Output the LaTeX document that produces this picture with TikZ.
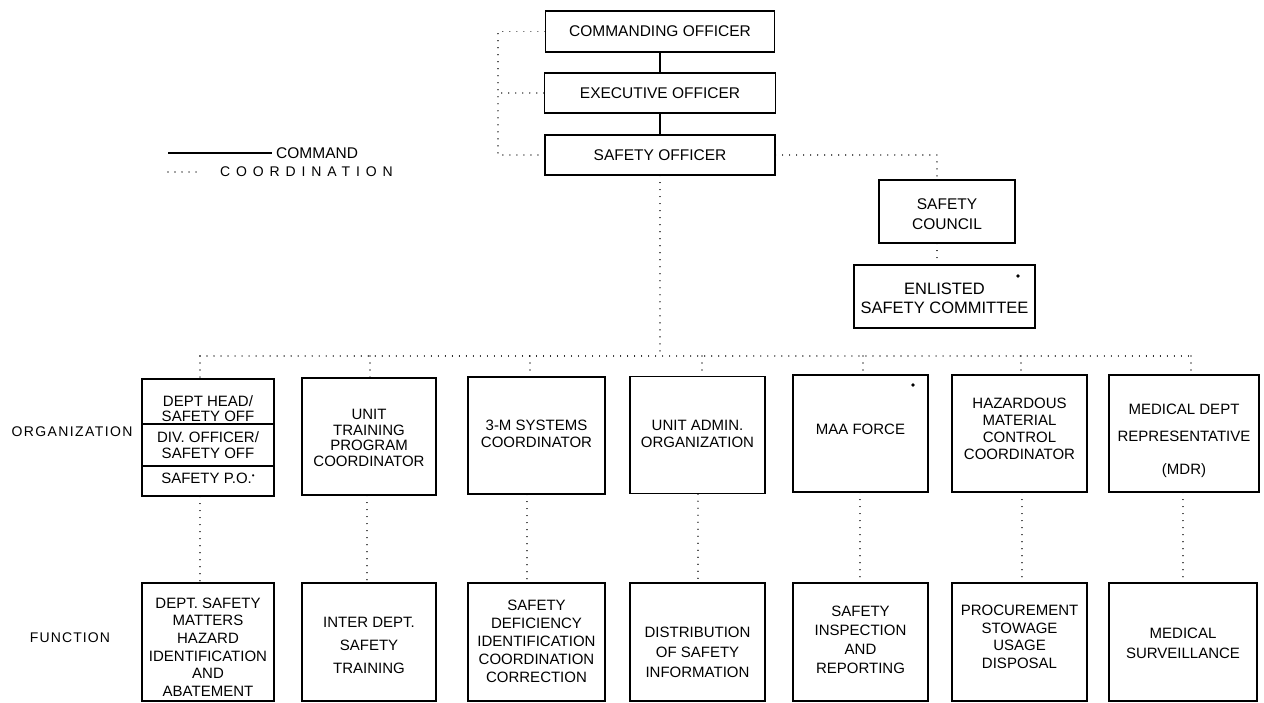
\documentclass[tikz,border=0pt]{standalone}
\usepackage{fontspec}
\setmainfont{Liberation Sans}
\begin{document}
\begin{tikzpicture}[x=1pt,y=-1pt,
  box/.style={draw, line width=1.3pt, inner sep=0pt, minimum width=#1},
  txt/.style={inner sep=0pt, align=center, font=\fontsize{15}{17}\selectfont},
  cmd/.style={line width=2pt},
  coord/.style={line width=1.1pt, line cap=round, dash pattern=on 0.01pt off 7pt},
  side/.style={inner sep=0pt, font=\fontsize{14}{16}\selectfont}]
\useasboundingbox (0,0) rectangle (1264,703);

% ---- top chain
\node[box=229pt, minimum height=41pt] (co) at (660,31.5) {};
\node[box=231pt, minimum height=40pt] (eo) at (660,93) {};
\node[box=230pt, minimum height=40pt] (so) at (660,155) {};
\node[txt, font=\fontsize{15.5}{17}\selectfont] (tco) at (co) {COMMANDING OFFICER};
\node[txt, font=\fontsize{15.5}{17}\selectfont] (teo) at (eo) {EXECUTIVE OFFICER};
\node[txt, font=\fontsize{15.5}{17}\selectfont] (tso) at (so) {SAFETY OFFICER};

% ---- council
\node[box=136pt, minimum height=63pt] (sc) at (947,211.5) {};
\node[box=181pt, minimum height=63pt] (esc) at (944.5,296.5) {};
\node[txt, font=\fontsize{15.5}{20}\selectfont] (tsc) at (947,214) {SAFETY\\COUNCIL};
\node[txt, font=\fontsize{16.5}{19}\selectfont] (tesc) at (944.5,298) {ENLISTED\\SAFETY COMMITTEE};
\fill (1018,276) circle (1.8pt);

% ---- legend
\coordinate (lc1) at (168,153); \coordinate (lc2) at (272,153);
\coordinate (ld1) at (168,172); \coordinate (ld2) at (202,172);
\draw[cmd] (lc1) -- (lc2);
\draw[coord] (ld1) -- (ld2);
\node[side, font=\fontsize{15.5}{17}\selectfont, anchor=west] (lcmd) at (276,153) {COMMAND};
\node[side, anchor=west] (lcoo) at (220,172) {\addfontfeature{LetterSpace=42}COORDINATION};

% ---- side labels
\node[side] (lorg) at (72,432) {\addfontfeature{LetterSpace=10}ORGANIZATION};
\node[side] (lfun) at (70,638) {\addfontfeature{LetterSpace=8}FUNCTION};

% ---- organization boxes
\node[box=132pt, minimum height=45pt] (o1a) at (208,401.5) {};
\node[box=132pt, minimum height=42pt] (o1b) at (208,445) {};
\node[box=132pt, minimum height=30pt] (o1c) at (208,481) {};
\node[box=134pt, minimum height=117pt] (o2) at (369,436.5) {};
\node[box=137pt, minimum height=117pt] (o3) at (536.5,435.5) {};
\node[box=135pt, minimum height=117pt] (o4) at (697.5,435) {};
\node[box=135pt, minimum height=117pt] (o5) at (860.5,433.5) {};
\node[box=135pt, minimum height=117pt] (o6) at (1019.5,433.5) {};
\node[box=150pt, minimum height=117pt] (o7) at (1184,433.5) {};

\node[txt, font=\fontsize{15}{15.5}\selectfont] (to1a) at (208,408.5) {DEPT HEAD/\\SAFETY OFF};
\node[txt, font=\fontsize{15}{16}\selectfont] (to1b) at (208,445) {DIV. OFFICER/\\SAFETY OFF};
\node[txt] (to1c) at (208,478) {SAFETY P.O.\raisebox{5pt}{\fontsize{8}{8}\selectfont\textbullet}};
\node[txt, font=\fontsize{15}{15.5}\selectfont] (to2) at (369,438) {UNIT\\TRAINING\\PROGRAM\\COORDINATOR};
\node[txt] (to3) at (536.5,434) {3-M SYSTEMS\\COORDINATOR};
\node[txt] (to4) at (697.5,434) {UNIT ADMIN.\\ORGANIZATION};
\node[txt] (to5) at (860.5,429) {MAA FORCE};
\fill (913,385) circle (1.8pt);
\node[txt] (to6) at (1019.5,429) {HAZARDOUS\\MATERIAL\\CONTROL\\COORDINATOR};
\node[txt, font=\fontsize{15}{27}\selectfont] (to7) at (1184,441) {MEDICAL DEPT\\REPRESENTATIVE\\[6pt](MDR)};

% ---- function boxes
\node[box=132pt, minimum height=118pt] (f1) at (208,642) {};
\node[box=134pt, minimum height=118pt] (f2) at (369,642) {};
\node[box=137pt, minimum height=118pt] (f3) at (536.5,642) {};
\node[box=135pt, minimum height=118pt] (f4) at (697.5,642) {};
\node[box=135pt, minimum height=118pt] (f5) at (860.5,642) {};
\node[box=135pt, minimum height=118pt] (f6) at (1019.5,642) {};
\node[box=148pt, minimum height=118pt] (f7) at (1183,642) {};

\node[txt, font=\fontsize{15}{17.6}\selectfont] (tf1) at (208,647) {DEPT. SAFETY\\MATTERS\\HAZARD\\IDENTIFICATION\\AND\\ABATEMENT};
\node[txt, font=\fontsize{15}{23}\selectfont] (tf2) at (369,645) {INTER DEPT.\\SAFETY\\TRAINING};
\node[txt, font=\fontsize{15}{18}\selectfont] (tf3) at (536.5,641) {SAFETY\\DEFICIENCY\\IDENTIFICATION\\COORDINATION\\CORRECTION};
\node[txt, font=\fontsize{15}{20}\selectfont] (tf4) at (697.5,652) {DISTRIBUTION\\OF SAFETY\\INFORMATION};
\node[txt, font=\fontsize{15}{19}\selectfont] (tf5) at (860.5,640) {SAFETY\\INSPECTION\\AND\\REPORTING};
\node[txt, font=\fontsize{15}{17.5}\selectfont] (tf6) at (1019.5,637) {PROCUREMENT\\STOWAGE\\USAGE\\DISPOSAL};
\node[txt, font=\fontsize{15}{20}\selectfont] (tf7) at (1183,643) {MEDICAL\\SURVEILLANCE};

% ---- command connectors
\draw[cmd] (co.south) -- (eo.north);
\draw[cmd] (eo.south) -- (so.north);

% ---- coordination connectors
\coordinate (lt) at (498,31.5);
\coordinate (rt) at (937,155);
\coordinate (busL) at (200,356);
\coordinate (busR) at (1191,356);
\draw[coord] (co.west) -- (co.west -| lt) -- (so.west -| lt) -- (so.west);
\draw[coord] (eo.west) -- (eo.west -| lt);
\draw[coord] (so.east) -- (rt) -- (sc.north -| rt);
\draw[coord] (sc.south -| rt) -- (esc.north -| rt);
\draw[coord] (so.south) -- (so.south |- busL);
\draw[coord] (busL) -- (busR);
\draw[coord] (busL) -- (o1a.north -| busL);
\draw[coord] (370,356) -- (o2.north -| 370,0);
\draw[coord] (530,356) -- (o3.north -| 530,0);
\draw[coord] (702,356) -- (o4.north -| 702,0);
\draw[coord] (863,356) -- (o5.north -| 863,0);
\draw[coord] (1021,356) -- (o6.north -| 1021,0);
\draw[coord] (busR) -- (o7.north -| busR);

\draw[coord] (o1c.south -| 200,0) -- (f1.north -| 200,0);
\draw[coord] (o2.south -| 367,0) -- (f2.north -| 367,0);
\draw[coord] (o3.south -| 527,0) -- (f3.north -| 527,0);
\draw[coord] (o4.south -| 698,0) -- (f4.north -| 698,0);
\draw[coord] (o5.south -| 860,0) -- (f5.north -| 860,0);
\draw[coord] (o6.south -| 1022,0) -- (f6.north -| 1022,0);
\draw[coord] (o7.south -| 1183,0) -- (f7.north -| 1183,0);
\end{tikzpicture}
\end{document}
